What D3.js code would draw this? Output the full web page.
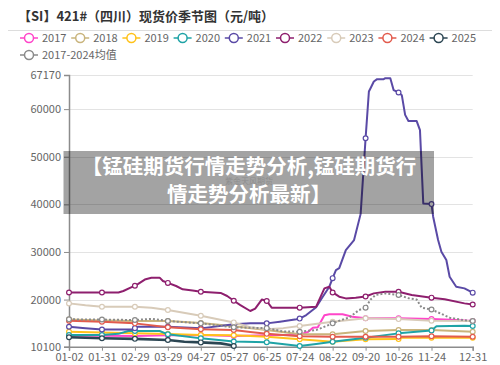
<!DOCTYPE html>
<html>
<head>
<meta charset="utf-8">
<script src="https://cdn.jsdelivr.net/npm/d3@7"></script>
<style>
  body { margin: 0; background: #fff; }
  svg text { font-family: "Noto Sans CJK SC", "Noto Sans", sans-serif; }
</style>
</head>
<body>
<div class="season_chart"></div>
<script>
// trading-day index of each x label (category axis, 246 days)
const tickIdx = [0, 20, 40, 60, 80, 100, 120, 140, 160, 180, 200, 220, 245];
const tickLabels = ["01-02", "01-31", "02-29", "03-29", "04-27", "05-27", "06-25",
                    "07-24", "08-22", "09-20", "10-26", "11-24", "12-31"];
const yTicks = [10100, 20000, 30000, 40000, 50000, 60000, 67170];

const seriesNames = ["2017", "2018", "2019", "2020", "2021", "2022", "2023", "2024", "2025", "2017-2024均值"];

// [day index, price]
const s2017 = [[0,12400],[20,12400],[40,12350],[60,12500],[80,12560],[100,12350],[120,12500],[140,12600],
  [145,13200],[148,14100],[151,14200],[155,16700],[158,16900],[166,16900],[172,16400],[180,16060],
  [200,16060],[220,15900],[232,15750],[245,15500]];
const s2018 = [[0,15800],[20,15600],[40,15500],[60,15500],[80,15100],[100,14400],[120,13600],[140,12700],
  [160,12700],[180,13400],[200,13600],[220,13600],[245,13250]];
const s2019 = [[0,13250],[20,13100],[40,12900],[60,12760],[80,12560],[100,12500],[120,12200],[140,11650],
  [160,11150],[180,11650],[200,11700],[202,12000],[220,12000],[245,12000]];
const s2020 = [[0,12560],[20,12560],[30,12800],[36,13400],[40,13400],[55,13400],[60,12700],[80,11850],
  [100,11200],[120,11050],[140,10250],[150,10670],[160,11150],[180,12000],[200,12900],[218,13450],
  [220,13500],[223,14400],[240,14500],[245,14450]];
const s2021 = [[0,14300],[10,14000],[20,13700],[38,13700],[40,14000],[42,14300],[60,14300],[80,13950],
  [100,14800],[110,15000],[120,15000],[128,15350],[138,15850],[140,16000],[144,16750],[150,18400],
  [154,20600],[158,22700],[160,24500],[162,26200],[164,26600],[168,30400],[173,32500],[177,38000],
  [180,53900],[182,63700],[183,64400],[185,65800],[187,66300],[191,66300],[192,66500],[195,66500],
  [197,64000],[200,63500],[202,62900],[204,58800],[206,57500],[211,57500],[213,55600],[215,40200],
  [220,40050],[221,37400],[224,32500],[226,30050],[229,28300],[231,24800],[235,22700],[240,22350],[245,21450]];
const s2022 = [[0,21500],[20,21500],[30,21500],[33,21800],[38,22600],[40,22900],[42,23300],[46,24200],
  [50,24600],[55,24600],[57,23900],[60,23500],[65,22850],[69,22150],[75,21900],[80,21650],[92,21400],
  [96,20750],[100,19750],[104,18850],[110,17600],[113,18100],[117,20000],[120,19700],[123,18300],
  [140,18300],[150,18500],[155,22350],[158,22700],[160,21500],[164,20600],[168,20250],[174,20400],
  [180,20650],[185,21300],[192,21650],[200,21650],[208,20950],[220,20400],[228,20050],[240,19200],[245,18950]];
const s2023 = [[0,19200],[10,18800],[20,18500],[40,18500],[50,18300],[60,17800],[80,16600],[100,15200],
  [110,14200],[120,13750],[130,14000],[140,14450],[160,15350],[170,15700],[180,16060],[200,15900],
  [220,15560],[245,15500]];
const s2024 = [[0,15560],[20,15350],[40,15000],[60,14170],[80,13750],[100,13600],[110,13200],[120,12800],
  [140,12300],[160,12200],[180,12200],[200,12200],[220,12300],[245,12200]];
const s2025 = [[0,12070],[20,11860],[40,11750],[60,11500],[70,11150],[80,11000],[92,10800],[97,10500],[100,10250]];
const sAvg = [[0,15850],[20,15800],[40,15700],[50,15950],[60,15500],[80,15000],[100,14170],[120,14000],
  [130,13300],[140,13250],[150,13600],[160,15000],[165,15700],[170,16200],[176,17800],[180,18300],
  [183,20000],[186,20950],[192,21300],[200,20950],[206,20300],[211,20000],[214,18300],[220,17900],
  [226,17000],[231,16200],[240,15650],[245,15500]];

const seriesData = [s2017, s2018, s2019, s2020, s2021, s2022, s2023, s2024, s2025, sAvg];
const colors = ["#ff45c9", "#c9b47c", "#ffc21a", "#1fa3a6", "#5a4aa6", "#8e1f6e",
                "#d8cbb9", "#e25b4d", "#2c4653", "#8a8a8a"];

const W = 500, H = 365;
const plot = {left: 69, right: 472.7, top: 75, bottom: 346.7};

const svg = d3.select(".season_chart")
  .append("svg")
  .attr("width", W)
  .attr("height", H);

// title + separator
svg.append("text")
  .attr("x", 18).attr("y", 21)
  .style("font-size", "13px")
  .style("font-weight", "bold")
  .style("fill", "#333")
  .text("【SI】421#（四川）现货价季节图（元/吨）");

svg.append("line")
  .attr("x1", 8).attr("x2", 492)
  .attr("y1", 30.5).attr("y2", 30.5)
  .attr("stroke", "#ddd");

// legend
const legend = svg.append("g");
seriesNames.forEach((name, i) => {
  const lx = i < 9 ? 20 + i * 51.2 : 20;
  const ly = i < 9 ? 38 : 55;
  const g = legend.append("g").attr("transform", `translate(${lx},${ly})`);
  g.append("line").attr("x1", 0).attr("x2", 18).attr("y1", 0).attr("y2", 0)
    .attr("stroke", colors[i]).attr("stroke-width", 1.5);
  g.append("circle").attr("cx", 9).attr("cy", 0).attr("r", 4.5)
    .attr("fill", "#fff").attr("stroke", colors[i]).attr("stroke-width", 1.5);
  g.append("text").attr("x", 22).attr("y", 0).attr("dy", "0.36em")
    .style("font-size", "11px").style("fill", "#666")
    .text(name);
});

const x = d3.scaleLinear().domain([0, 245]).range([plot.left, plot.right]);
const y = d3.scaleLinear().domain([10100, 67170]).range([plot.bottom, plot.top]);

// grid lines
svg.append("g")
  .selectAll("line")
  .data(yTicks.filter(d => d !== 10100))
  .enter()
  .append("line")
  .attr("x1", plot.left).attr("x2", plot.right)
  .attr("y1", d => Math.round(y(d)) + 0.5).attr("y2", d => Math.round(y(d)) + 0.5)
  .attr("stroke", "#e3e3e3");

// axes
const yAxis = svg.append("g")
  .attr("transform", `translate(${plot.left},0)`)
  .call(d3.axisLeft(y).tickValues(yTicks).tickFormat(d => d).tickSize(5).tickPadding(3));

const xAxis = svg.append("g")
  .attr("transform", `translate(0,${plot.bottom})`)
  .call(d3.axisBottom(x).tickValues(tickIdx).tickFormat((d, i) => tickLabels[i]).tickSize(4).tickPadding(3));

[yAxis, xAxis].forEach(a => {
  a.select(".domain").attr("stroke", "#8c8c8c").attr("stroke-width", 1.5);
  a.selectAll(".tick line").attr("stroke", "#8c8c8c");
  a.selectAll("text").style("font-size", "11px").style("fill", "#666")
    .style("font-family", "\"Noto Sans CJK SC\", sans-serif");
});

// series lines
const line = d3.line()
  .x(d => x(d[0]))
  .y(d => y(d[1]));

const linesG = svg.append("g");
seriesData.forEach((data, i) => {
  linesG.append("path")
    .datum(data)
    .attr("d", line)
    .attr("fill", "none")
    .attr("stroke", colors[i])
    .attr("stroke-width", i === 8 ? 2.6 : 2)
    .attr("stroke-linejoin", "round")
    .attr("stroke-dasharray", i === 9 ? "2,2" : null);

  linesG.append("g")
    .selectAll("circle")
    .data(data.filter(d => tickIdx.includes(d[0])))
    .enter()
    .append("circle")
    .attr("cx", d => x(d[0]))
    .attr("cy", d => y(d[1]))
    .attr("r", 2.4)
    .attr("fill", "#fff")
    .attr("stroke", colors[i])
    .attr("stroke-width", 1.2);
});

// overlay banner
const banner = svg.append("g");
banner.append("rect")
  .attr("x", 63.5).attr("y", 151)
  .attr("width", 370.5).attr("height", 63)
  .attr("fill", "#000").attr("fill-opacity", 0.36);

// faint watermark sitting between the two banner lines
banner.append("text")
  .attr("x", 249).attr("y", 181.5)
  .attr("dy", "0.36em")
  .attr("text-anchor", "middle")
  .style("font-size", "8px")
  .style("fill", "#777").style("fill-opacity", 0.5)
  .text("紫金天风期货");

const bannerLines = ["【锰硅期货行情走势分析,锰硅期货行", "情走势分析最新】"];
banner.selectAll("text.ban")
  .data(bannerLines)
  .enter()
  .append("text")
  .attr("class", "ban")
  .attr("x", 249)
  .attr("y", (d, i) => 167 + i * 28)
  .attr("dy", "0.36em")
  .attr("text-anchor", "middle")
  .style("font-size", "20.5px")
  .style("font-weight", "bold")
  .style("fill", "#fff")
  .text(d => d);
</script>
</body>
</html>
